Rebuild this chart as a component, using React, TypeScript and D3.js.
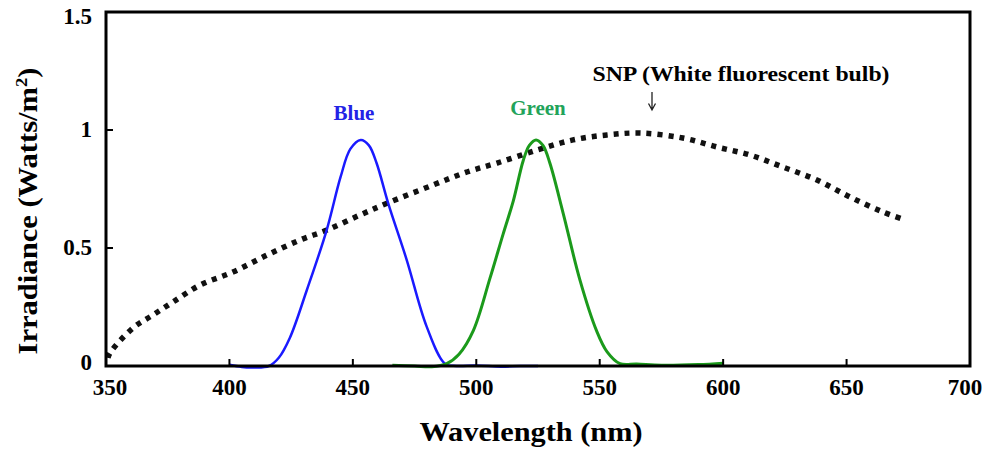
import React from "react";
import * as d3 from "d3";

const xTicks = [350, 400, 450, 500, 550, 600, 650, 700];
const yTicks = [0, 0.5, 1, 1.5];
const yTickLabels = ["0", "0.5", "1", "1.5"];

const blueWl = [400, 405, 410, 416, 420, 424.5, 431.3, 439.4, 445, 449, 453.2, 456.5, 459.6, 464.3, 471.8, 479.9, 487.3, 492, 500, 510, 518, 525];
const blueVal = [0.005, -0.004, -0.006, 0.0, 0.035, 0.12, 0.32, 0.576, 0.8, 0.92, 0.958, 0.935, 0.86, 0.69, 0.45, 0.167, 0.01, 0.0, 0.002, -0.003, 0.0, 0.0];

const greenWl = [466, 475, 482, 488, 493, 498.8, 505.5, 510.9, 515, 519, 521.5, 524.2, 527, 529.8, 535.2, 542, 548.7, 553, 558.2, 565, 575, 590, 600];
const greenVal = [0.003, 0.0, -0.003, 0.01, 0.05, 0.15, 0.37, 0.56, 0.7, 0.87, 0.935, 0.958, 0.935, 0.86, 0.647, 0.364, 0.15, 0.06, 0.01, 0.008, 0.003, 0.006, 0.012];

const snpWl = [350.8, 351.6, 360.9, 369.0, 377.1, 388.1, 401.4, 415.2, 428.6, 439.5, 452.9, 464.2, 482.5, 496.2, 508.4, 524.6, 539.2, 552.9, 566.3, 583.7, 597.5, 610.9, 624.2, 638.0, 651.4, 664.7, 673.7];
const snpVal = [0.034, 0.055, 0.161, 0.216, 0.271, 0.343, 0.398, 0.47, 0.534, 0.576, 0.64, 0.691, 0.767, 0.822, 0.86, 0.915, 0.958, 0.979, 0.987, 0.966, 0.928, 0.894, 0.843, 0.788, 0.716, 0.653, 0.619];

const FONT = "'Liberation Serif', 'Times New Roman', serif";

export default function App() {
  const x = d3.scaleLinear().domain([350, 700]).range([106, 970]);
  const y = d3.scaleLinear().domain([0, 1.5]).range([366, 12]);

  const line = d3
    .line<[number, number]>()
    .x((d) => x(d[0]))
    .y((d) => y(d[1]))
    .curve(d3.curveCatmullRom.alpha(0.5));

  const blue = line(blueWl.map((w, i) => [w, blueVal[i]]));
  const green = line(greenWl.map((w, i) => [w, greenVal[i]]));
  const snp = line(snpWl.map((w, i) => [w, snpVal[i]]));

  const [x0, x1] = x.range();
  const [yb, yt] = y.range();

  return (
    <svg
      width={1000}
      height={450}
      style={{ position: "absolute", left: 0, top: 0, background: "#fff" }}
      fontFamily={FONT}
      fontWeight="bold"
    >
      {/* data lines */}
      <path d={snp || ""} fill="none" stroke="#111" strokeWidth={5.5} strokeDasharray="5 6" />
      <path d={blue || ""} fill="none" stroke="#1a1aff" strokeWidth={2.5} />
      <path d={green || ""} fill="none" stroke="#1b9a1b" strokeWidth={3} />

      {/* frame */}
      <rect x={x0} y={yt} width={x1 - x0} height={yb - yt} fill="none" stroke="#000" strokeWidth={3} />

      {/* x ticks */}
      {xTicks.map((t) => (
        <g key={"xt" + t}>
          {t > 350 && t < 700 && (
            <line x1={x(t)} x2={x(t)} y1={yb} y2={yb - 7} stroke="#000" strokeWidth={2} />
          )}
          <text x={x(t) + (t === 350 ? 4 : t === 700 ? -5 : 0)} y={yb + 29} textAnchor="middle" fontSize={23}>
            {t}
          </text>
        </g>
      ))}

      {/* y ticks */}
      {yTicks.map((t, i) => (
        <g key={"yt" + t}>
          {t > 0 && t < 1.5 && (
            <line x1={x0} x2={x0 + 7} y1={y(t)} y2={y(t)} stroke="#000" strokeWidth={2} />
          )}
          <text x={92} y={y(t) + 7 + (t === 1.5 ? 5 : t === 0 ? -3 : 0)} textAnchor="end" fontSize={23}>
            {yTickLabels[i]}
          </text>
        </g>
      ))}

      {/* axis titles */}
      <text x={531} y={441} textAnchor="middle" fontSize={27} textLength={223} lengthAdjust="spacingAndGlyphs">
        Wavelength (nm)
      </text>
      <text
        transform="translate(37,211) rotate(-90)"
        textAnchor="middle"
        fontSize={28}
        textLength={287}
        lengthAdjust="spacingAndGlyphs"
      >
        Irradiance (Watts/m<tspan fontSize={17} dy={-10}>2</tspan>
        <tspan dy={10}>)</tspan>
      </text>

      {/* annotations */}
      <text x={354} y={120} textAnchor="middle" fontSize={21} fill="#2323e6">
        Blue
      </text>
      <text x={538} y={115} textAnchor="middle" fontSize={21} fill="#22a35a">
        Green
      </text>
      <text x={741} y={81} textAnchor="middle" fontSize={22} textLength={297} lengthAdjust="spacingAndGlyphs">
        SNP (White fluorescent bulb)
      </text>
      <path d="M652,92 V110 M648.5,103.5 L652,110 L655.5,103.5" fill="none" stroke="#222" strokeWidth={1.3} />
    </svg>
  );
}
